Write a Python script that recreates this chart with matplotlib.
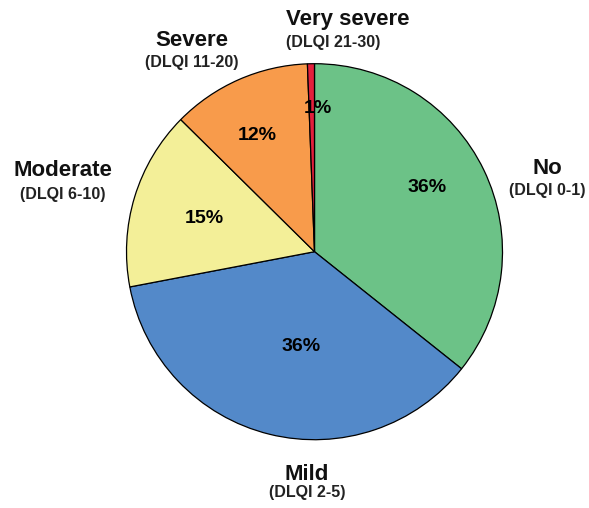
import numpy as np
import matplotlib
matplotlib.use("Agg")
import matplotlib.pyplot as plt

# Share of patients by DLQI severity band (percent)
categories = ["No", "Mild", "Moderate", "Severe", "Very severe"]
ranges = ["(DLQI 0-1)", "(DLQI 2-5)", "(DLQI 6-10)", "(DLQI 11-20)", "(DLQI 21-30)"]
shares = [35.7, 36.3, 15.4, 12.0, 0.6]
colors = ["#6cc287", "#5389c9", "#f3ef98", "#f89b4b", "#e3203c"]

W, H = 589, 508
fig = plt.figure(figsize=(W / 100, H / 100), dpi=100)
ax = fig.add_axes([0, 0, 1, 1])

cx, cy, R = 314.5, H - 251.7, 188

wedges, _, autotexts = ax.pie(
    shares, colors=colors, startangle=90, counterclock=False,
    center=(cx, cy), radius=R, autopct="%.0f%%",
    wedgeprops=dict(edgecolor="black", linewidth=0.9),
    textprops=dict(fontsize=14, fontweight="bold", family="Liberation Sans"),
    frame=False,
)
ax.set_xlim(0, W)
ax.set_ylim(0, H)
ax.set_aspect("equal")
ax.axis("off")

# percentage label placement: (radius fraction, angle offset in degrees)
pct_pos = [(0.69, 4), (0.51, 6), (0.61, 0), (0.69, 2.5), (0.76, -2.5)]
for w, t, (rf, dth) in zip(wedges, autotexts, pct_pos):
    mid = np.deg2rad((w.theta1 + w.theta2) / 2 + dth)
    t.set_position((cx + rf * R * np.cos(mid), cy + rf * R * np.sin(mid)))
    t.set_ha("center")
    t.set_va("center")

# category labels: (x, y of name, y of range, alignment)
label_pos = [
    (547, 168, 191, "center"),
    (307, 474, 492, "center"),
    (63, 171, 194, "center"),
    (192, 41, 62, "center"),
    (286, 19, 43, "left"),
]
for name, rng, (x, y1, y2, ha) in zip(categories, ranges, label_pos):
    ax.text(x, H - y1, name, ha=ha, va="center", fontsize=16,
            fontweight="bold", family="Liberation Sans", color="#111111")
    ax.text(x, H - y2, rng, ha=ha, va="center", fontsize=11.5,
            fontweight="bold", family="Liberation Sans", color="#222222")

fig.savefig("out.png", dpi=100)
